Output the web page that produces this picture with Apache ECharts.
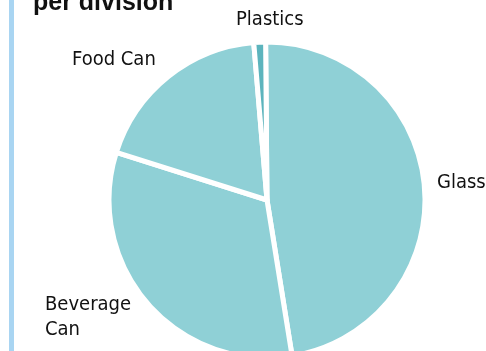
<!DOCTYPE html>
<html>
<head>
<meta charset="utf-8">
<style>
  html, body { margin: 0; padding: 0; background: #ffffff; }
  #chart { width: 486px; height: 351px; }
</style>
<script src="https://cdn.jsdelivr.net/npm/echarts@6/dist/echarts.min.js"></script>
</head>
<body>
<div id="chart"></div>
<script>
// Share of collected material per division (%)
const categories = ['Glass', 'Beverage Can', 'Food Can', 'Plastics'];
const shares = [47.6, 32.4, 18.8, 1.2];
const title = 'per division';

const sliceColor = '#8fd0d6';
const accentColor = '#5cb4bd';
const labelFont = '"DejaVu Sans Condensed", "Liberation Sans", sans-serif';

// Where each slice name sits around the pie
const labelSpots = {
  'Glass':        { x: 437, y: 170 },
  'Beverage Can': { x: 45,  y: 292 },
  'Food Can':     { x: 72,  y: 47 },
  'Plastics':     { x: 236, y: 7 }
};

const chart = echarts.init(document.getElementById('chart'), null, { renderer: 'canvas' });

chart.setOption({
  animation: false,
  backgroundColor: '#ffffff',
  graphic: [
    {
      type: 'rect',
      shape: { x: 9, y: 0, width: 5, height: 351 },
      style: { fill: '#a9d5f2' },
      silent: true
    },
    {
      type: 'text',
      x: 33,
      y: 16,
      style: {
        text: title,
        font: 'bold 25px "Liberation Sans", Arial, sans-serif',
        fill: '#111111',
        align: 'left',
        verticalAlign: 'bottom'
      },
      silent: true
    }
  ],
  series: [{
    type: 'pie',
    center: [267, 200],
    radius: [0, 158],
    startAngle: 90.5,
    clockwise: true,
    avoidLabelOverlap: false,
    data: categories.map((name, i) => ({
      name,
      value: shares[i],
      itemStyle: { color: name === 'Plastics' ? accentColor : sliceColor }
    })),
    itemStyle: { borderColor: '#ffffff', borderWidth: 5 },
    label: {
      show: true,
      position: 'outside',
      formatter: p => p.name === 'Beverage Can' ? 'Beverage\nCan' : p.name,
      fontFamily: labelFont,
      fontSize: 20,
      lineHeight: 25,
      color: '#111111'
    },
    labelLine: { show: false },
    labelLayout: params => {
      const spot = labelSpots[categories[params.dataIndex]];
      return { x: spot.x, y: spot.y, align: 'left', verticalAlign: 'top' };
    },
    emphasis: { disabled: true }
  }]
});
</script>
</body>
</html>
